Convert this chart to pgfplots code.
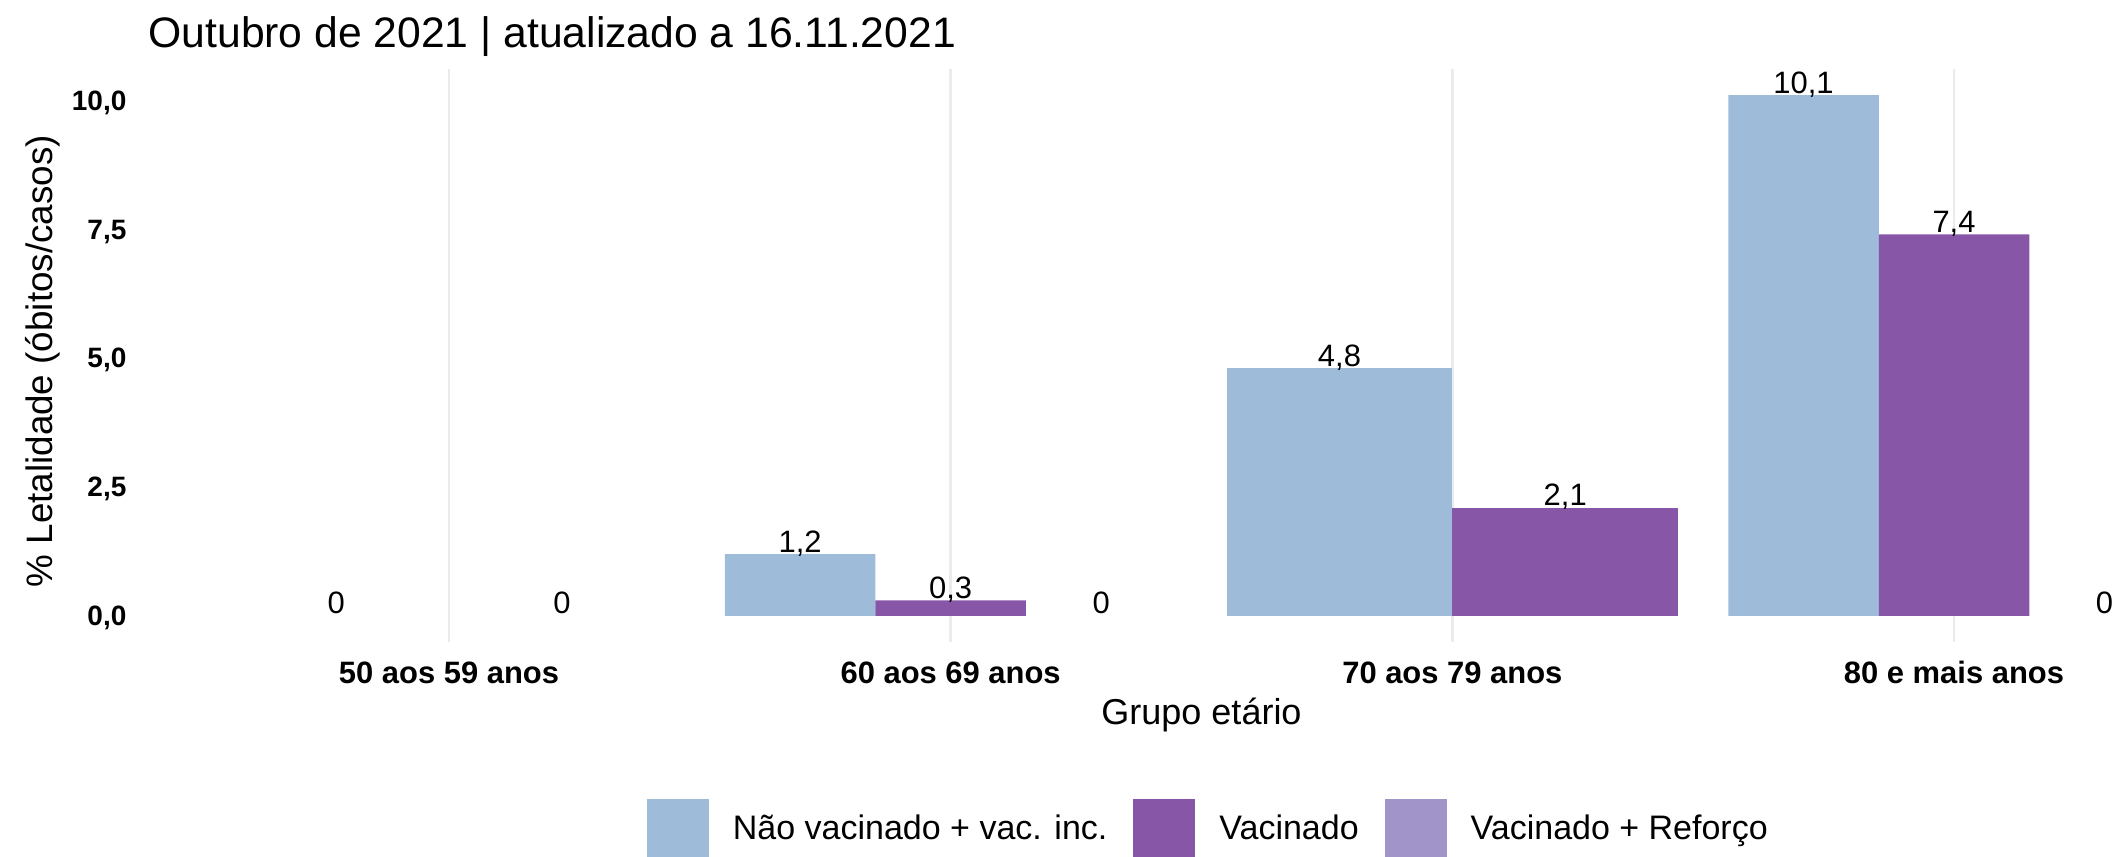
\documentclass[border=0pt]{standalone}
\usepackage{fontspec}
\setmainfont{Liberation Sans}
\usepackage{pgfplots}
\pgfplotsset{compat=1.18}
\definecolor{cnv}{HTML}{9EBCDA}
\definecolor{cvac}{HTML}{8856A7}
\definecolor{cref}{HTML}{A094C8}
\definecolor{cgrid}{HTML}{EBEBEB}
\begin{document}
\begin{tikzpicture}
\useasboundingbox (0,0) rectangle (796.5pt,321pt);
\clip (0,0) rectangle (796.5pt,321pt);
\begin{axis}[
  at={(55.5pt,80.25pt)}, anchor=south west,
  scale only axis, width=790.125pt, height=214.875pt,
  xmin=0.4, xmax=4.6, ymin=-0.505, ymax=10.605,
  ybar,
  axis line style={draw=none},
  major tick length=0pt,
  tick style={draw=none},
  xmajorgrids, ymajorgrids=false,
  major grid style={color=cgrid, line width=0.9pt},
  xtick={1,2,3,4},
  xticklabels={50 aos 59 anos, 60 aos 69 anos, 70 aos 79 anos, 80 e mais anos},
  ytick={0,2.5,5,7.5,10},
  /pgf/number format/assume math mode=true,
  yticklabel={\pgfmathprintnumber[fixed,fixed zerofill,precision=1,use comma,assume math mode=true]{\tick}},
  xticklabel style={anchor=base, inner sep=0pt, yshift=-15.75pt, font=\bfseries\fontsize{11.6}{13}\selectfont},
  yticklabel style={anchor=base east, inner sep=0pt, xshift=-7.9pt, yshift=-3.7pt, font=\bfseries\fontsize{10.5}{12}\selectfont},
  title={Outubro de 2021 | atualizado a 16.11.2021},
  title style={at={(axis description cs:0,1)}, anchor=base west, inner sep=0pt, yshift=2.1pt, font=\fontsize{16}{19}\selectfont},
  xlabel={Grupo etário},
  ylabel={\% Letalidade (óbitos/casos)},
  every axis x label/.style={at={(axis description cs:0.5,-0.1275)}, anchor=center, font=\fontsize{13.5}{16}\selectfont},
  every axis y label/.style={at={(axis description cs:-0.0499,0.49)}, rotate=90, anchor=center, font=\fontsize{13.8}{16}\selectfont},
  nodes near coords,
  every node near coord/.append style={anchor=base, inner sep=0pt, yshift=0.75pt, font=\fontsize{11.6}{14}\selectfont,
    /pgf/number format/use comma, /pgf/number format/assume math mode=true},
  legend columns=3,
  legend style={at={(axis description cs:0.2368,-0.274)}, anchor=north west, draw=none, fill=none,
    inner sep=0pt, outer sep=0pt,
    cells={anchor=west},
    nodes={inner sep=0pt, text height=0.72em, text depth=0pt, font=\fontsize{12.75}{15}\selectfont},
    /tikz/every odd column/.append style={column sep=9pt},
    /tikz/every even column/.append style={column sep=9.75pt}},
  legend image code/.code={\fill[#1] (0pt,-11.625pt) rectangle (23.25pt,11.625pt);},
]
% groups with two bars (50-59, 70-79): bar width 0.45
\addplot[forget plot, fill=cnv, draw=none, bar width=0.45, bar shift=0pt] coordinates {(2.775,4.8)};
\addplot[forget plot, fill=cvac, draw=none, bar width=0.45, bar shift=0pt] coordinates {(3.225,2.1)};
% zero values in the 50-59 group (Não vacinado, Vacinado)
\addplot[forget plot, fill=none, draw=none, bar width=0.45, bar shift=0pt] coordinates {(0.775,0) (1.225,0)};
% groups with three bars (60-69, 80+): bar width 0.3
\addplot[forget plot, fill=cnv, draw=none, bar width=0.3, bar shift=0pt] coordinates {(1.7,1.2) (3.7,10.1)};
\addplot[forget plot, fill=cvac, draw=none, bar width=0.3, bar shift=0pt] coordinates {(2,0.3) (4,7.4)};
% Vacinado + Reforço: zero values
\addplot[forget plot, fill=none, draw=none, bar width=0.3, bar shift=0pt] coordinates {(2.3,0) (4.3,0)};
\addlegendimage{fill=cnv, draw=none}
\addlegendentry{Não vacinado + vac. inc.}
\addlegendimage{fill=cvac, draw=none}
\addlegendentry{Vacinado}
\addlegendimage{fill=cref, draw=none}
\addlegendentry{Vacinado + Reforço}
\end{axis}
\end{tikzpicture}
\end{document}
